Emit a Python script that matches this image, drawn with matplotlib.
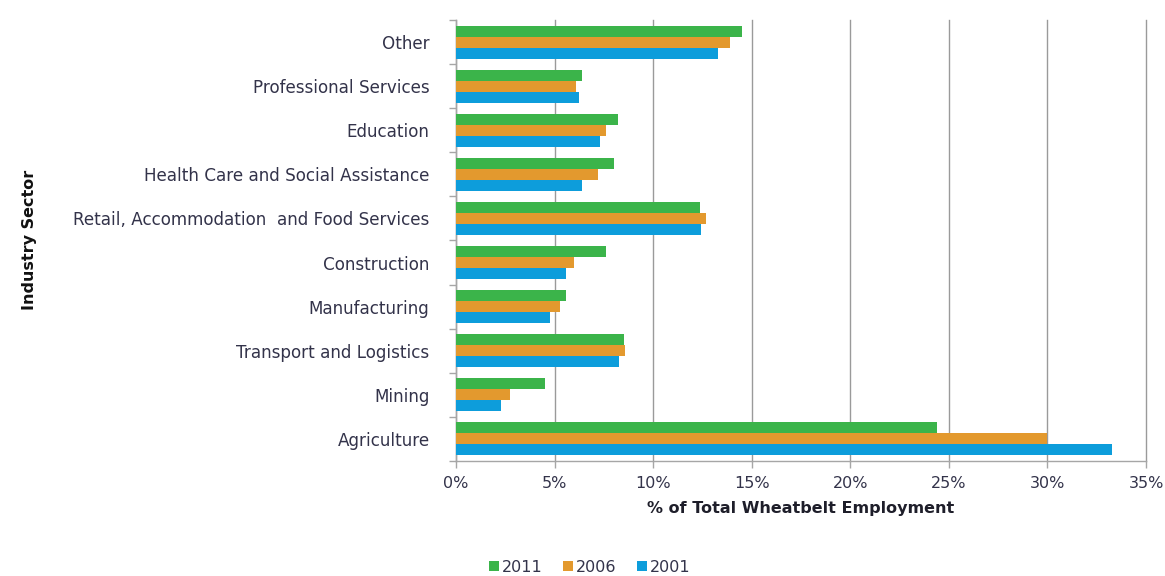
import numpy as np
import matplotlib
matplotlib.use("Agg")
import matplotlib.pyplot as plt
from matplotlib.ticker import FixedLocator, PercentFormatter

plt.rcParams['font.family'] = ['DejaVu Sans']

# Industry sectors, listed top to bottom
sectors = [
    "Other",
    "Professional Services",
    "Education",
    "Health Care and Social Assistance",
    "Retail, Accommodation  and Food Services",
    "Construction",
    "Manufacturing",
    "Transport and Logistics",
    "Mining",
    "Agriculture",
]

# Share of total Wheatbelt employment (%)
share_2011 = [14.5, 6.4, 8.2, 8.0, 12.4, 7.6, 5.6, 8.5, 4.5, 24.4]
share_2006 = [13.9, 6.1, 7.6, 7.2, 12.7, 6.0, 5.3, 8.55, 2.75, 30.0]
share_2001 = [13.3, 6.25, 7.3, 6.4, 12.45, 5.6, 4.75, 8.25, 2.3, 33.3]

years = ["2011", "2006", "2001"]
colors = ["#3bb44a", "#e3992e", "#0d9ddb"]
series = [share_2011, share_2006, share_2001]

text_color = "#33334a"
axis_color = "#a6a6a6"

fig = plt.figure(figsize=(11.65, 5.76), dpi=100)
ax = fig.add_axes([456 / 1165, 1 - 461 / 576, (1146 - 456) / 1165, (461 - 20) / 576])

n = len(sectors)
pos = np.arange(n)
bar_h = 0.25
offsets = [-bar_h, 0, bar_h]
for vals, col, yr, off in zip(series, colors, years, offsets):
    ax.barh(pos + off, vals, height=bar_h, color=col, label=yr, zorder=3)

ax.set_ylim(n - 0.5, -0.5)
ax.set_xlim(0, 35)

ax.set_yticks(pos)
ax.set_yticklabels(sectors)
ax.yaxis.set_minor_locator(FixedLocator(np.arange(n + 1) - 0.5))
ax.tick_params(axis='y', which='major', length=0, pad=19, labelsize=12.1, labelcolor=text_color)
ax.tick_params(axis='y', which='minor', length=5, color=axis_color, width=1)

ax.set_xticks(np.arange(0, 36, 5))
ax.xaxis.set_major_formatter(PercentFormatter(decimals=0))
ax.tick_params(axis='x', length=5, color=axis_color, width=1, labelsize=11.5, labelcolor=text_color, pad=6)

ax.grid(axis='x', color="#9a9a9a", linewidth=1, zorder=0)
for gl in ax.get_xgridlines():
    gl.set_clip_on(False)
for side in ("top", "right"):
    ax.spines[side].set_visible(False)
for side in ("left", "bottom"):
    ax.spines[side].set_color(axis_color)
    ax.spines[side].set_linewidth(1)

ax.set_xlabel("% of Total Wheatbelt Employment", fontsize=11.5, fontweight='bold',
              color="#1e1e2a", labelpad=7)
fig.text(30 / 1165, 1 - 240 / 576, "Industry Sector", rotation=90, fontsize=11.5,
         fontweight='bold', color="#111111", ha='center', va='center')

leg = fig.legend(loc='center', bbox_to_anchor=(590 / 1165, 1 - 567 / 576), ncol=3,
                 frameon=False, fontsize=11.5, handlelength=0.6, handleheight=0.6,
                 handletextpad=0.2, columnspacing=1.3)
for t in leg.get_texts():
    t.set_color(text_color)

fig.savefig("out.png", dpi=100, facecolor="white")
